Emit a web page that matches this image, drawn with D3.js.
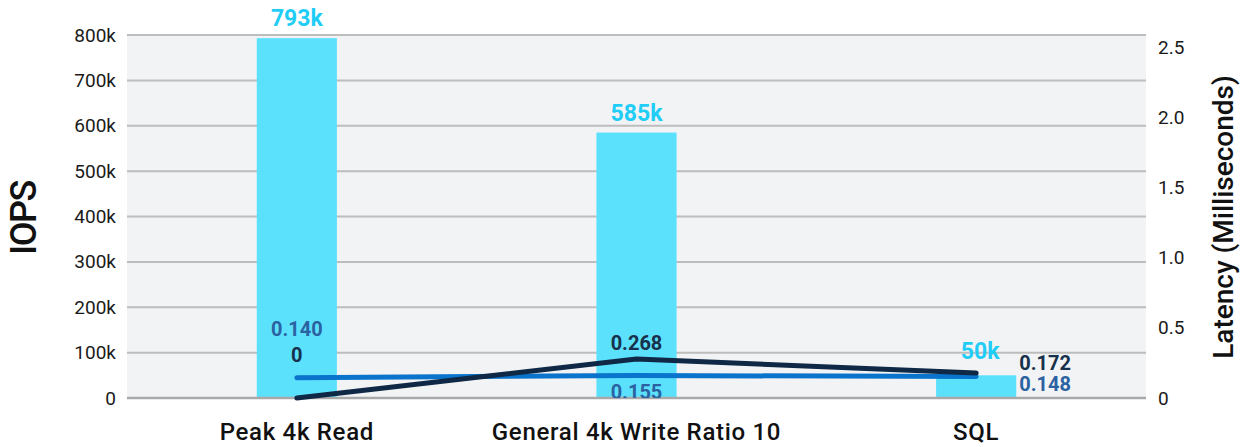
<!DOCTYPE html>
<html>
<head>
<meta charset="utf-8">
<script src="https://cdn.jsdelivr.net/npm/d3@7"></script>
<style>
  body { margin: 0; background: #fff; }
  text { font-family: Roboto, "Noto Sans", sans-serif; }
</style>
</head>
<body>
<script>
let width = 1249;
let height = 447;
let margin = {top: 35, right: 103, bottom: 49, left: 127};

// data
let categories = ['Peak 4k Read', 'General 4k Write Ratio 10', 'SQL'];
let iops = [793000, 585000, 50000];
let iopsLabels = ['793k', '585k', '50k'];
let latencyA = [0, 0.268, 0.172];      // dark line
let latencyB = [0.140, 0.155, 0.148];  // blue line
let iopsTicks = [0, 100000, 200000, 300000, 400000, 500000, 600000, 700000, 800000];
let latTicks = [0, 0.5, 1.0, 1.5, 2.0, 2.5];

let svg = d3.select('body').append('svg').attr('width', width).attr('height', height);

let x = d3.scaleBand().domain(categories).range([margin.left, width - margin.right]).padding(0);
let y = d3.scaleLinear().domain([0, 800000]).range([height - margin.bottom, margin.top]);
let y2 = d3.scaleLinear().domain([0, 2.5]).range([height - margin.bottom, margin.top]);
// right axis labels sit a little lower than the gridlines in the original
let y2Axis = d3.scaleLinear().domain([0, 2.5]).range([height - margin.bottom, 47]);

let barW = x.bandwidth() * 0.236;
let cx = (c) => x(c) + x.bandwidth() / 2;

svg.append('clipPath').attr('id', 'plotclip').append('rect')
  .attr('x', margin.left).attr('y', 0)
  .attr('width', width - margin.left - margin.right).attr('height', height - margin.bottom);

// plot background
svg.append('rect')
  .attr('x', margin.left).attr('y', margin.top)
  .attr('width', width - margin.left - margin.right)
  .attr('height', height - margin.top - margin.bottom)
  .attr('fill', '#f2f3f5');

// gridlines
svg.append('g').selectAll('line').data(iopsTicks.slice(1)).join('line')
  .attr('x1', margin.left).attr('x2', width - margin.right)
  .attr('y1', d => y(d)).attr('y2', d => y(d))
  .attr('stroke', '#bdbdbd').attr('stroke-width', 2);

// bars
svg.append('g').selectAll('rect').data(categories).join('rect')
  .attr('x', c => cx(c) - barW / 2)
  .attr('y', (c, i) => y(iops[i]))
  .attr('width', barW)
  .attr('height', (c, i) => y(0) - y(iops[i]))
  .attr('fill', '#5ce1fd');

// baseline
svg.append('line')
  .attr('x1', margin.left).attr('x2', width - margin.right)
  .attr('y1', y(0)).attr('y2', y(0))
  .attr('stroke', '#a9a9a9').attr('stroke-width', 2.5);

// left axis
let leftAxis = d3.axisLeft(y).tickValues(iopsTicks)
  .tickFormat(d => d === 0 ? '0' : (d / 1000) + 'k').tickSize(0).tickPadding(11);
let gl = svg.append('g').attr('transform', 'translate(' + margin.left + ',0)').call(leftAxis);
gl.select('.domain').remove();
gl.selectAll('text').attr('font-size', 19).attr('fill', '#1a1a1a').style('font-family', 'Roboto');

// right axis
let rightAxis = d3.axisRight(y2Axis).tickValues(latTicks)
  .tickFormat(d => d === 0 ? '0' : d3.format('.1f')(d)).tickSize(0).tickPadding(12);
let gr = svg.append('g').attr('transform', 'translate(' + (width - margin.right) + ',0)').call(rightAxis);
gr.select('.domain').remove();
gr.selectAll('text').attr('font-size', 19).attr('fill', '#1a1a1a').style('font-family', 'Roboto');

// category labels
svg.append('g').selectAll('text').data(categories).join('text')
  .attr('x', cx).attr('y', 440)
  .attr('text-anchor', 'middle')
  .attr('font-size', 24).attr('font-weight', 500).attr('fill', '#111')
  .attr('letter-spacing', 0.7)
  .text(d => d);

// axis titles
svg.append('text')
  .attr('transform', 'translate(36,' + 218 + ') rotate(-90)')
  .attr('text-anchor', 'middle')
  .attr('font-size', 36).attr('font-weight', 500).attr('fill', '#111')
  .attr('letter-spacing', -1.5)
  .text('IOPS');
svg.append('text')
  .attr('transform', 'translate(1233,' + 217 + ') rotate(-90)')
  .attr('text-anchor', 'middle')
  .attr('font-size', 28).attr('font-weight', 500).attr('fill', '#111')
  .text('Latency (Milliseconds)');

// lines
let lineFunc = (vals) => d3.line().x((d, i) => cx(categories[i])).y(d => y2(d))(vals);
svg.append('path').attr('d', lineFunc(latencyB))
  .attr('fill', 'none').attr('stroke', '#0a74cc').attr('stroke-width', 5)
  .attr('stroke-linecap', 'round');
svg.append('path').attr('d', lineFunc(latencyA))
  .attr('fill', 'none').attr('stroke', '#0e2846').attr('stroke-width', 5)
  .attr('stroke-linecap', 'round').attr('stroke-linejoin', 'round');

// bar value labels
svg.append('g').selectAll('text').data(categories).join('text')
  .attr('x', (c, i) => cx(c) + (i === 2 ? 4 : 0))
  .attr('y', (c, i) => y(iops[i]) - (i === 2 ? 16 : 12))
  .attr('text-anchor', 'middle')
  .attr('font-size', 23).attr('font-weight', 700).attr('fill', '#1fcdf6')
  .text((c, i) => iopsLabels[i]);

// latency labels
let labelA = [
  {x: cx(categories[0]), y: 362, anchor: 'middle'},
  {x: cx(categories[1]), y: 350, anchor: 'middle'},
  {x: cx(categories[2]) + 43, y: 370, anchor: 'start'}
];
let labelB = [
  {x: cx(categories[0]), y: 336, anchor: 'middle'},
  {x: cx(categories[1]), y: 399, anchor: 'middle'},
  {x: cx(categories[2]) + 43, y: 391, anchor: 'start'}
];
let fmt = (d) => d === 0 ? '0' : d3.format('.3f')(d);
let gLab = svg.append('g').attr('clip-path', 'url(#plotclip)');
gLab.selectAll('text.a').data(latencyA).join('text').attr('class', 'a')
  .attr('x', (d, i) => labelA[i].x).attr('y', (d, i) => labelA[i].y)
  .attr('text-anchor', (d, i) => labelA[i].anchor)
  .attr('font-size', 20).attr('font-weight', 700).attr('fill', '#17304b')
  .text(fmt);
gLab.selectAll('text.b').data(latencyB).join('text').attr('class', 'b')
  .attr('x', (d, i) => labelB[i].x).attr('y', (d, i) => labelB[i].y)
  .attr('text-anchor', (d, i) => labelB[i].anchor)
  .attr('font-size', 20).attr('font-weight', 700).attr('fill', '#2b62a1')
  .text(fmt);
</script>
</body>
</html>
